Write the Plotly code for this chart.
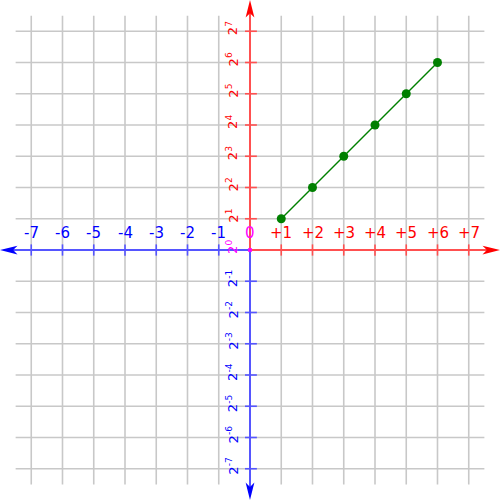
import numpy as np
import plotly.graph_objects as go

# Data
x_vals = [1, 2, 3, 4, 5, 6]
y_vals = [2, 4, 8, 16, 32, 64]
x_ticks = [-7, -6, -5, -4, -3, -2, -1, 1, 2, 3, 4, 5, 6, 7]
y_exps = [-7, -6, -5, -4, -3, -2, -1, 1, 2, 3, 4, 5, 6, 7]

RED_LINE = "rgb(255,80,80)"
BLUE_LINE = "rgb(85,85,255)"
RED_TXT = "#ff0000"
BLUE_TXT = "#0000ff"
MAG = "#ff00ff"
GRID = "rgb(200,200,200)"

fig = go.Figure()
shapes = []
annotations = []

# grid
for k in range(-7, 8):
    shapes.append(dict(type="line", x0=k, x1=k, y0=-7.5, y1=7.5,
                       line=dict(color=GRID, width=1.6), layer="below"))
    shapes.append(dict(type="line", y0=k, y1=k, x0=-7.5, x1=7.5,
                       line=dict(color=GRID, width=1.6), layer="below"))

# axes
shapes.append(dict(type="line", x0=-7.6, x1=0, y0=0, y1=0, line=dict(color=BLUE_LINE, width=2)))
shapes.append(dict(type="line", x0=0, x1=7.6, y0=0, y1=0, line=dict(color=RED_LINE, width=2)))
shapes.append(dict(type="line", x0=0, x1=0, y0=0, y1=7.6, line=dict(color=RED_LINE, width=2)))
shapes.append(dict(type="line", x0=0, x1=0, y0=-7.6, y1=0, line=dict(color=BLUE_LINE, width=2)))

# arrows
L, W, N = 0.56, 0.14, 0.42
shapes.append(dict(type="path", path=f"M 8,0 L {8-L},{W} L {8-N},0 L {8-L},{-W} Z",
                   fillcolor=RED_TXT, line=dict(width=0)))
shapes.append(dict(type="path", path=f"M -8,0 L {-8+L},{W} L {-8+N},0 L {-8+L},{-W} Z",
                   fillcolor=BLUE_TXT, line=dict(width=0)))
shapes.append(dict(type="path", path=f"M 0,8 L {W},{8-L} L 0,{8-N} L {-W},{8-L} Z",
                   fillcolor=RED_TXT, line=dict(width=0)))
shapes.append(dict(type="path", path=f"M 0,-8 L {W},{-8+L} L 0,{-8+N} L {-W},{-8+L} Z",
                   fillcolor=BLUE_TXT, line=dict(width=0)))

# ticks and labels on x
for t in x_ticks:
    c = RED_LINE if t > 0 else BLUE_LINE
    shapes.append(dict(type="line", x0=t, x1=t, y0=-0.18, y1=0.18, line=dict(color=c, width=1.6)))
    txt = f"+{t}" if t > 0 else f"-{abs(t)}"
    annotations.append(dict(x=t, y=0.53, text=txt, showarrow=False,
                            font=dict(family="DejaVu Sans", size=15,
                                      color=RED_TXT if t > 0 else BLUE_TXT)))
annotations.append(dict(x=0, y=0.53, text="0", showarrow=False,
                        font=dict(family="DejaVu Sans", size=15, color=MAG)))

# ticks and labels on y
for e in y_exps:
    c = RED_LINE if e > 0 else BLUE_LINE
    shapes.append(dict(type="line", x0=-0.16, x1=0.22, y0=e, y1=e, line=dict(color=c, width=1.6)))
    annotations.append(dict(x=-0.58, y=e, yshift=3, text=f"2<sup>{e}</sup>", showarrow=False,
                            textangle=-90,
                            font=dict(family="DejaVu Sans", size=13,
                                      color=RED_TXT if e > 0 else BLUE_TXT)))
annotations.append(dict(x=-0.58, y=0, yshift=3, text="2<sup>0</sup>", showarrow=False, textangle=-90,
                        font=dict(family="DejaVu Sans", size=13, color=MAG)))

# origin dot
shapes.append(dict(type="rect", x0=-0.06, x1=0.06, y0=-0.06, y1=0.06,
                   fillcolor=MAG, line=dict(width=0)))

fig.add_trace(go.Scatter(x=x_vals, y=np.log2(y_vals), mode="lines+markers",
                         line=dict(color="green", width=1.5),
                         marker=dict(color="green", size=9)))

fig.update_layout(
    width=500, height=500, margin=dict(l=0, r=0, t=0, b=0),
    paper_bgcolor="white", plot_bgcolor="white", showlegend=False,
    xaxis=dict(range=[-8, 8], visible=False, fixedrange=True),
    yaxis=dict(range=[-8, 8], visible=False, fixedrange=True),
    shapes=shapes, annotations=annotations,
)
fig.write_html("out.html", config={"displayModeBar": False},
               post_script="document.body.style.margin='0';document.body.style.overflow='hidden';")
